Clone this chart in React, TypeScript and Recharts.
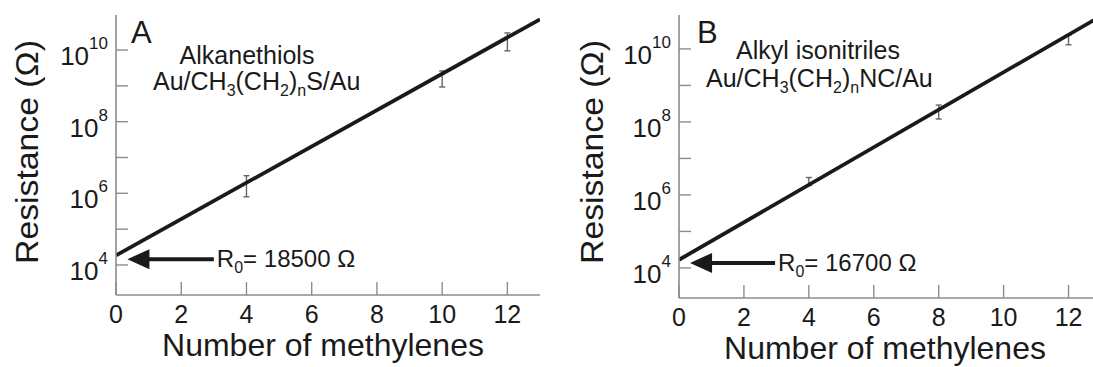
import React from "react";
import { LineChart, Line, XAxis, YAxis, ErrorBar, ReferenceLine } from "recharts";

const FONT = '"Liberation Sans", Arial, Helvetica, sans-serif';
const FRAME = "#8c8c8c";
const INK = "#1a1a1a";

// x ticks and log ticks (shared by both panels)
const xTicks = [0, 2, 4, 6, 8, 10, 12];
const yTicks = [1e4, 1e5, 1e6, 1e7, 1e8, 1e9, 1e10];

// panel A: alkanethiols
const nA = [4, 10, 12];
const rA = [1.6e6, 1.6e9, 1.7e10];
const loA = [8e5, 9.3e8, 9.5e9];
const hiA = [3.1e6, 2.6e9, 3.0e10];
const fitA = [
  { n: 0, r: 18500 },
  { n: 13, r: 7.2e10 },
];
const arrowA = { tail: 3.0, tip: 0.35, r: 1.45e4, text: "18500" };

// panel B: alkyl isonitriles
const nB = [4, 8, 12];
const rB = [2.3e6, 1.9e8, 1.8e10];
const loB = [1.8e6, 1.2e8, 1.3e10];
const hiB = [3.0e6, 2.9e8, 2.4e10];
const fitB = [
  { n: 0, r: 16700 },
  { n: 13, r: 8e10 },
];
const arrowB = { tail: 2.96, tip: 0.34, r: 1.37e4, text: "16700" };

const toPoints = (n: number[], r: number[], lo: number[], hi: number[]) =>
  n.map((v, i) => ({ n: v, r: r[i], err: [r[i] - lo[i], hi[i] - r[i]] }));

function BottomTick({ x, y, payload }: any) {
  return (
    <g>
      <line x1={x} x2={x} y1={y} y2={y - 13} stroke={FRAME} strokeWidth={1.4} />
      <text x={x} y={y + 28} textAnchor="middle" fontSize={25} fontFamily={FONT} fill={INK}>
        {payload.value}
      </text>
    </g>
  );
}

function TopTick({ x, y }: any) {
  return <line x1={x} x2={x} y1={y} y2={y + 14} stroke={FRAME} strokeWidth={1.4} />;
}

function LeftTick({ x, y, payload }: any) {
  const exp = Math.round(Math.log10(payload.value));
  return (
    <g>
      <line x1={x} x2={x + 12} y1={y} y2={y} stroke={FRAME} strokeWidth={1.4} />
      {exp % 2 === 0 && (
        <text x={x - 8} y={y + 15} textAnchor="end" fontSize={26} fontFamily={FONT} fill={INK}>
          10
          <tspan dy={-16} fontSize={17}>
            {exp}
          </tspan>
        </text>
      )}
    </g>
  );
}

function RightTick({ x, y }: any) {
  return <line x1={x} x2={x - 12} y1={y} y2={y} stroke={FRAME} strokeWidth={1.4} />;
}

function arrowShape(text: string) {
  return (p: any) => {
    const { x1, y1, x2, y2 } = p;
    const head = 22;
    return (
      <g>
        <line x1={x1} y1={y1} x2={x2 + head - 2} y2={y2} stroke={INK} strokeWidth={4} />
        <polygon points={`${x2},${y2} ${x2 + head},${y2 - 10} ${x2 + head},${y2 + 10}`} fill={INK} />
        <text x={x1 + 3} y={y1 + 8} fontSize={24} fontFamily={FONT} fill={INK}>
          R<tspan dy={6} fontSize={16}>0</tspan>
          <tspan dy={-6}>= {text} Ω</tspan>
        </text>
      </g>
    );
  };
}

function XTitle({ viewBox, dy }: any) {
  const { x, width } = viewBox;
  return (
    <text x={x + width / 2 - 5} y={dy} textAnchor="middle" fontSize={32} fontFamily={FONT} fill={INK}>
      Number of methylenes
    </text>
  );
}

function Panel({
  left,
  yAxisW,
  plotH,
  width,
  points,
  fit,
  arrow,
  domain,
  titleX,
  titleY,
}: any) {
  return (
    <div style={{ position: "absolute", left, top: 0 }}>
      <LineChart width={width} height={367} margin={{ top: 15, right: 20, bottom: 0, left: 0 }}>
        <XAxis
          dataKey="n"
          type="number"
          domain={[0, 13]}
          ticks={xTicks}
          allowDataOverflow
          height={367 - 15 - plotH}
          tickSize={0}
          tickMargin={0}
          tickLine={false}
          axisLine={{ stroke: FRAME, strokeWidth: 1.6 }}
          tick={<BottomTick />}
          label={<XTitle dy={titleY} />}
        />
        <XAxis
          xAxisId="top"
          orientation="top"
          type="number"
          domain={[0, 13]}
          ticks={xTicks.slice(1)}
          allowDataOverflow
          height={0}
          tickSize={0}
          tickMargin={0}
          tickLine={false}
          axisLine={{ stroke: FRAME, strokeWidth: 1.6 }}
          tick={<TopTick />}
        />
        <YAxis
          type="number"
          scale="log"
          domain={domain}
          ticks={yTicks}
          allowDataOverflow
          width={yAxisW}
          tickSize={0}
          tickMargin={0}
          tickLine={false}
          axisLine={{ stroke: FRAME, strokeWidth: 1.6 }}
          tick={<LeftTick />}
        />
        <YAxis
          yAxisId="right"
          orientation="right"
          type="number"
          scale="log"
          domain={domain}
          ticks={yTicks}
          allowDataOverflow
          width={0}
          tickSize={0}
          tickMargin={0}
          tickLine={false}
          axisLine={{ stroke: FRAME, strokeWidth: 1.6 }}
          tick={<RightTick />}
        />
        <Line
          data={points}
          dataKey="r"
          stroke="none"
          dot={false}
          activeDot={false}
          isAnimationActive={false}
        >
          <ErrorBar dataKey="err" direction="y" width={3} stroke="#666" strokeWidth={1.4} isAnimationActive={false} />
        </Line>
        <Line
          data={fit}
          dataKey="r"
          stroke={INK}
          strokeWidth={3.8}
          dot={false}
          activeDot={false}
          isAnimationActive={false}
        />
        <ReferenceLine
          segment={[
            { x: arrow.tail, y: arrow.r },
            { x: arrow.tip, y: arrow.r },
          ]}
          shape={arrowShape(arrow.text)}
        />
      </LineChart>
      <svg
        width={width}
        height={367}
        style={{ position: "absolute", left: 0, top: 0, pointerEvents: "none" }}
      >
        <text
          transform={`translate(${titleX}, 152) rotate(-90)`}
          textAnchor="middle"
          fontSize={31}
          fontFamily={FONT}
          fill={INK}
          textLength={224}
          lengthAdjust="spacingAndGlyphs"
        >
          Resistance (Ω)
        </text>
      </svg>
    </div>
  );
}

export default function App() {
  return (
    <div
      style={{
        position: "fixed",
        left: 0,
        top: 0,
        width: 1093,
        height: 367,
        overflow: "hidden",
        background: "#fff",
        fontFamily: FONT,
      }}
    >
      <Panel
        left={0}
        width={560}
        yAxisW={116}
        plotH={280}
        points={toPoints(nA, rA, loA, hiA)}
        fit={fitA}
        arrow={arrowA}
        domain={[1450, 9.5e10]}
        titleX={38}
        titleY={356}
      />
      <Panel
        left={560}
        width={561}
        yAxisW={119}
        plotH={283}
        points={toPoints(nB, rB, loB, hiB)}
        fit={fitB}
        arrow={arrowB}
        domain={[1500, 8.5e10]}
        titleX={43}
        titleY={359}
      />
      <svg
        width={1093}
        height={367}
        style={{ position: "absolute", left: 0, top: 0, pointerEvents: "none" }}
        fontFamily={FONT}
        fill={INK}
      >
        <text x={131} y={43} fontSize={31}>A</text>
        <text x={247} y={64} fontSize={25} textAnchor="middle">Alkanethiols</text>
        <text x={153} y={90} fontSize={25}>
          Au/CH<tspan dy={6} fontSize={16}>3</tspan>
          <tspan dy={-6}>(CH</tspan>
          <tspan dy={6} fontSize={16}>2</tspan>
          <tspan dy={-6}>)</tspan>
          <tspan dy={6} fontSize={16}>n</tspan>
          <tspan dy={-6}>S/Au</tspan>
        </text>
        <text x={697} y={43} fontSize={31}>B</text>
        <text x={736} y={59} fontSize={25}>Alkyl isonitriles</text>
        <text x={706} y={87} fontSize={25}>
          Au/CH<tspan dy={6} fontSize={16}>3</tspan>
          <tspan dy={-6}>(CH</tspan>
          <tspan dy={6} fontSize={16}>2</tspan>
          <tspan dy={-6}>)</tspan>
          <tspan dy={6} fontSize={16}>n</tspan>
          <tspan dy={-6}>NC/Au</tspan>
        </text>
      </svg>
    </div>
  );
}
